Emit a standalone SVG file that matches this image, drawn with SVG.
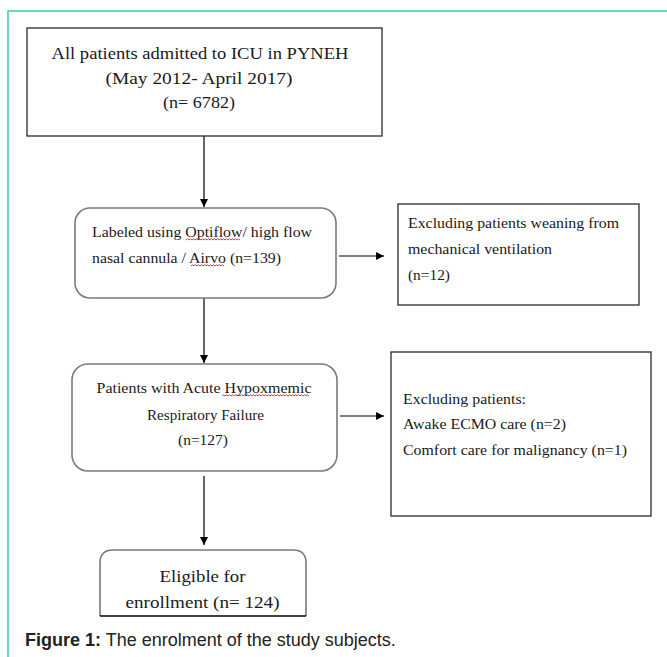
<svg xmlns="http://www.w3.org/2000/svg" width="667" height="657" viewBox="0 0 667 657">
<style>
.t{font-family:"Liberation Serif","Times New Roman",serif;fill:#1a1a1a}
.c{text-anchor:middle}
.sq{fill:#fff;stroke:#2a2a2a;stroke-width:1.3}
.rd{fill:#fff;stroke:#7a7a7a;stroke-width:1.6}
.ln{stroke:#000;stroke-width:1.2;fill:none}
.sp{stroke:#e02020;stroke-width:0.9;fill:none}
.cap{font-family:"Liberation Sans",Arial,sans-serif;font-size:18px;fill:#222}
</style>
<defs>
<marker id="ah" markerUnits="userSpaceOnUse" markerWidth="9" markerHeight="8" refX="8" refY="4" orient="auto">
<path d="M0,0 L8,4 L0,8 z" fill="#000"/>
</marker>
</defs>
<rect width="667" height="657" fill="#fff"/>
<path d="M667,11 H8 V657" fill="none" stroke="#3cc8b4" stroke-width="1.5"/>

<g id="connectors">
<line class="ln" x1="204" y1="136" x2="204" y2="207" marker-end="url(#ah)"/>
<line class="ln" x1="204" y1="298" x2="204" y2="363" marker-end="url(#ah)"/>
<line class="ln" x1="204" y1="476" x2="204" y2="545" marker-end="url(#ah)"/>
<line class="ln" x1="339" y1="256" x2="384" y2="256" marker-end="url(#ah)"/>
<line class="ln" x1="340" y1="416" x2="384" y2="416" marker-end="url(#ah)"/>
</g>

<g id="n1">
<rect class="sq" x="27" y="28" width="355" height="108"/>
<text class="t c" x="200" y="59" font-size="16.5" textLength="297" lengthAdjust="spacingAndGlyphs">All patients admitted to ICU in PYNEH</text>
<text class="t c" x="199" y="84" font-size="16.5" textLength="187" lengthAdjust="spacingAndGlyphs">(May 2012- April 2017)</text>
<text class="t c" x="199" y="108" font-size="16.5" textLength="72" lengthAdjust="spacingAndGlyphs">(n= 6782)</text>
</g>

<g id="n2">
<rect class="rd" x="75" y="208" width="261" height="90" rx="15"/>
<text class="t" x="92" y="237" font-size="14.5" textLength="220" lengthAdjust="spacingAndGlyphs">Labeled using Optiflow/ high flow</text>
<text class="t" x="92" y="263" font-size="14.5" textLength="189" lengthAdjust="spacingAndGlyphs">nasal cannula / Airvo (n=139)</text>
<path class="sp" d="M186,240 l1.5,-1.2 l1.5,1.2 l1.5,-1.2 l1.5,1.2 l1.5,-1.2 l1.5,1.2 l1.5,-1.2 l1.5,1.2 l1.5,-1.2 l1.5,1.2 l1.5,-1.2 l1.5,1.2 l1.5,-1.2 l1.5,1.2 l1.5,-1.2 l1.5,1.2 l1.5,-1.2 l1.5,1.2 l1.5,-1.2 l1.5,1.2 l1.5,-1.2 l1.5,1.2 l1.5,-1.2 l1.5,1.2 l1.5,-1.2 l1.5,1.2 l1.5,-1.2 l1.5,1.2 l1.5,-1.2 l1.5,1.2 l1.5,-1.2 l1.5,1.2 l1.5,-1.2 l1.5,1.2 l1.5,-1.2 l1.5,1.2"/>
<path class="sp" d="M191,266 l1.5,-1.2 l1.5,1.2 l1.5,-1.2 l1.5,1.2 l1.5,-1.2 l1.5,1.2 l1.5,-1.2 l1.5,1.2 l1.5,-1.2 l1.5,1.2 l1.5,-1.2 l1.5,1.2 l1.5,-1.2 l1.5,1.2 l1.5,-1.2 l1.5,1.2 l1.5,-1.2 l1.5,1.2 l1.5,-1.2 l1.5,1.2 l1.5,-1.2 l1.5,1.2"/>
</g>

<g id="n3">
<rect class="sq" x="398" y="204" width="241" height="101"/>
<text class="t" x="408" y="228" font-size="14.5" textLength="211" lengthAdjust="spacingAndGlyphs">Excluding patients weaning from</text>
<text class="t" x="408" y="254" font-size="14.5" textLength="144" lengthAdjust="spacingAndGlyphs">mechanical ventilation</text>
<text class="t" x="408" y="280" font-size="14.5" textLength="42" lengthAdjust="spacingAndGlyphs">(n=12)</text>
</g>

<g id="n4">
<rect class="rd" x="72" y="364" width="265" height="107" rx="16"/>
<text class="t c" x="204" y="393" font-size="14.5" textLength="215" lengthAdjust="spacingAndGlyphs">Patients with Acute Hypoxmemic</text>
<text class="t c" x="205.5" y="420" font-size="14.5" textLength="117" lengthAdjust="spacingAndGlyphs">Respiratory Failure</text>
<text class="t c" x="203" y="445" font-size="14.5" textLength="50" lengthAdjust="spacingAndGlyphs">(n=127)</text>
<path class="sp" d="M222,396 l1.5,-1.2 l1.5,1.2 l1.5,-1.2 l1.5,1.2 l1.5,-1.2 l1.5,1.2 l1.5,-1.2 l1.5,1.2 l1.5,-1.2 l1.5,1.2 l1.5,-1.2 l1.5,1.2 l1.5,-1.2 l1.5,1.2 l1.5,-1.2 l1.5,1.2 l1.5,-1.2 l1.5,1.2 l1.5,-1.2 l1.5,1.2 l1.5,-1.2 l1.5,1.2 l1.5,-1.2 l1.5,1.2 l1.5,-1.2 l1.5,1.2 l1.5,-1.2 l1.5,1.2 l1.5,-1.2 l1.5,1.2 l1.5,-1.2 l1.5,1.2 l1.5,-1.2 l1.5,1.2 l1.5,-1.2 l1.5,1.2 l1.5,-1.2 l1.5,1.2 l1.5,-1.2 l1.5,1.2 l1.5,-1.2 l1.5,1.2 l1.5,-1.2 l1.5,1.2 l1.5,-1.2 l1.5,1.2 l1.5,-1.2 l1.5,1.2 l1.5,-1.2 l1.5,1.2 l1.5,-1.2 l1.5,1.2 l1.5,-1.2 l1.5,1.2 l1.5,-1.2 l1.5,1.2 l1.5,-1.2 l1.5,1.2"/>
</g>

<g id="n5">
<rect class="sq" x="391" y="352" width="260" height="164"/>
<text class="t" x="403" y="404" font-size="14.5" textLength="123" lengthAdjust="spacingAndGlyphs">Excluding patients:</text>
<text class="t" x="403" y="429" font-size="14.5" textLength="163" lengthAdjust="spacingAndGlyphs">Awake ECMO care (n=2)</text>
<text class="t" x="403" y="455" font-size="14.5" textLength="224" lengthAdjust="spacingAndGlyphs">Comfort care for malignancy (n=1)</text>
</g>

<g id="n6">
<path d="M100,616 V563 Q100,550 113,550 H293 Q306,550 306,563 V616" fill="#fff" stroke="#7a7a7a" stroke-width="1.6"/>
<line x1="100" y1="616" x2="306" y2="616" stroke="#000" stroke-width="1.3"/>
<text class="t c" x="202.5" y="582" font-size="16" textLength="86" lengthAdjust="spacingAndGlyphs">Eligible for</text>
<text class="t c" x="202.5" y="608" font-size="16" textLength="154" lengthAdjust="spacingAndGlyphs">enrollment (n= 124)</text>
</g>

<text class="cap" x="25" y="646"><tspan font-weight="bold">Figure 1:</tspan> The enrolment of the study subjects.</text>
</svg>
